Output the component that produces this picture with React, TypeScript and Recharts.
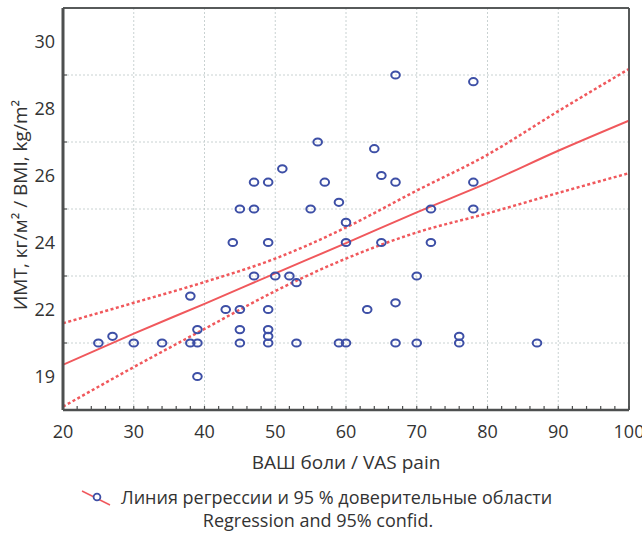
import { CartesianGrid, ComposedChart, Line, ReferenceLine, Scatter, XAxis, YAxis } from "recharts";

// ВАШ боли (VAS pain) и ИМТ (BMI) по пациентам
const vasPain = [
  25, 27, 30, 34, 38, 39, 39, 38, 39, 43, 45, 45, 45, 44, 45, 47, 47, 49, 49, 47, 49, 49, 49, 49, 50, 51, 52, 53,
  53, 55, 56, 57, 59, 60, 60, 59, 60, 63, 64, 65, 65, 67, 67, 67, 67, 70, 70, 72, 72, 76, 76, 78, 78, 78, 87,
];
const bmi = [
  21, 21.2, 21, 21, 21, 21, 21.4, 22.4, 20, 22, 22, 21.4, 21, 24, 25, 25, 25.8, 25.8, 24, 23, 22, 21.4, 21.2, 21, 23,
  26.2, 23, 22.8, 21, 25, 27, 25.8, 25.2, 24.6, 24, 21, 21, 22, 26.8, 26, 24, 29, 25.8, 22.2, 21, 23, 21, 25, 24,
  21.2, 21, 28.8, 25.8, 25, 21,
];

const fitX = [20, 30, 40, 50, 60, 70, 80, 90, 100];
const fitLine = [20.35, 21.28, 22.17, 23.08, 23.98, 24.9, 25.78, 26.74, 27.64];
const ciUpper = [21.59, 22.2, 22.82, 23.52, 24.45, 25.55, 26.62, 27.92, 29.18];
const ciLower = [19.1, 20.28, 21.42, 22.55, 23.52, 24.3, 24.87, 25.48, 26.07];

const xTicks = [20, 30, 40, 50, 60, 70, 80, 90, 100];
const yTickValues = [20, 22, 24, 26, 28, 30];
const yTickLabels = ["19", "22", "24", "26", "28", "30"];
const yGrid = [21, 23, 25, 27, 29];

const range = (from: number, to: number, step: number) => {
  const out: number[] = [];
  for (let v = from; v <= to + 1e-9; v += step) out.push(Math.round(v * 100) / 100);
  return out;
};
const xMinor = range(20, 100, 2);
const yMinor = range(19, 31, 0.4);
const yLeftTicks = range(20, 30, 1);

const points = vasPain.map((x, i) => ({ x, y: bmi[i] }));
const toSeries = (ys: number[]) => fitX.map((x, i) => ({ x, y: ys[i] }));

const FONT = "'Open Sans', 'DejaVu Sans', sans-serif";
const TEXT = "#333";
const FRAME = "#4d4f4f";
const RED = "#f0585c";
const BLUE = "#3d4fa6";

function Ring(props: any) {
  const { cx, cy } = props;
  if (cx == null || cy == null) return null;
  return <ellipse cx={cx} cy={cy} rx={4.3} ry={3.6} fill="none" stroke={BLUE} strokeWidth={2} />;
}

function LeftTick(props: any) {
  const { x, y, payload } = props;
  const idx = yTickValues.indexOf(payload.value);
  if (idx < 0) {
    return <line x1={x + 8} x2={x + 12} y1={y} y2={y} stroke={FRAME} strokeWidth={1.2} />;
  }
  return (
    <text x={x} y={y} dy="0.35em" textAnchor="end" fontSize={18} fontFamily={FONT} fill={TEXT}>
      {yTickLabels[idx]}
    </text>
  );
}

export default function App() {
  return (
    <div style={{ position: "absolute", left: 0, top: 0, width: 642, height: 535, background: "#fff" }}>
      <ComposedChart width={642} height={535} margin={{ top: 8, right: 13, bottom: 95, left: 0 }}>
        <CartesianGrid
          verticalValues={[30, 40, 50, 60, 70, 80, 90]}
          horizontalValues={yGrid}
          stroke="#c9d2d2"
          strokeDasharray="2 2"
        />
        <XAxis
          dataKey="x"
          type="number"
          domain={[20, 100]}
          ticks={xMinor}
          interval={0}
          height={30}
          tickSize={-4}
          tickMargin={19}
          tickFormatter={(v: number) => (xTicks.includes(v) ? String(v) : "")}
          axisLine={{ stroke: FRAME, strokeWidth: 2.5 }}
          tickLine={{ stroke: FRAME, strokeWidth: 1.2 }}
          tick={{ fontSize: 18, fontFamily: FONT, fill: TEXT }}
          allowDataOverflow
        />
        <XAxis
          xAxisId="top"
          orientation="top"
          type="number"
          domain={[20, 100]}
          ticks={xMinor}
          interval={0}
          height={1}
          mirror
          tickSize={4}
          tickFormatter={() => ""}
          axisLine={{ stroke: FRAME, strokeWidth: 1.5 }}
          tickLine={{ stroke: FRAME, strokeWidth: 1.2 }}
        />
        <YAxis
          type="number"
          domain={[19, 31]}
          ticks={yLeftTicks}
          interval={0}
          width={63}
          tickSize={0}
          tickMargin={8}
          tickLine={false}
          tick={<LeftTick />}
          axisLine={{ stroke: FRAME, strokeWidth: 3 }}
          allowDataOverflow
        />
        <YAxis
          yAxisId="right"
          orientation="right"
          type="number"
          domain={[19, 31]}
          ticks={yMinor}
          interval={0}
          width={1}
          mirror
          tickSize={4}
          tickFormatter={() => ""}
          axisLine={{ stroke: FRAME, strokeWidth: 1.5 }}
          tickLine={{ stroke: FRAME, strokeWidth: 1.2 }}
        />
        <ReferenceLine y={31} stroke={FRAME} strokeWidth={1.5} ifOverflow="visible" />
        <ReferenceLine x={100} stroke={FRAME} strokeWidth={1.5} ifOverflow="visible" />
        <Line
          data={toSeries(ciUpper)}
          dataKey="y"
          type="monotone"
          stroke={RED}
          strokeWidth={2.5}
          strokeDasharray="3 2.5"
          dot={false}
          isAnimationActive={false}
        />
        <Line
          data={toSeries(ciLower)}
          dataKey="y"
          type="monotone"
          stroke={RED}
          strokeWidth={2.5}
          strokeDasharray="3 2.5"
          dot={false}
          isAnimationActive={false}
        />
        <Line
          data={toSeries(fitLine)}
          dataKey="y"
          type="monotone"
          stroke={RED}
          strokeWidth={2}
          dot={false}
          isAnimationActive={false}
        />
        <Scatter data={points} dataKey="y" shape={<Ring />} isAnimationActive={false} />
      </ComposedChart>

      <div
        style={{
          position: "absolute",
          left: 20,
          top: 205,
          transform: "translate(-50%, -50%) rotate(-90deg)",
          whiteSpace: "nowrap",
          fontFamily: FONT,
          fontSize: 19,
          color: TEXT,
        }}
      >
        ИМТ, кг/м² / BMI, kg/m²
      </div>
      <div
        style={{
          position: "absolute",
          left: 0,
          width: 692,
          top: 449,
          textAlign: "center",
          fontFamily: FONT,
          fontSize: 19,
          color: TEXT,
        }}
      >
        ВАШ боли / VAS pain
      </div>
      <div style={{ position: "absolute", left: 80, top: 485, fontFamily: FONT, fontSize: 18, color: TEXT }}>
        <div style={{ display: "flex", alignItems: "center", whiteSpace: "nowrap" }}>
          <svg width={32} height={20} style={{ marginRight: 9 }}>
            <line x1={2} y1={4} x2={30} y2={18} stroke={RED} strokeWidth={1.5} />
            <circle cx={17} cy={10} r={3.4} fill="#fff" stroke={BLUE} strokeWidth={1.8} />
          </svg>
          Линия регрессии и 95 % доверительные области
        </div>
      </div>
      <div
        style={{
          position: "absolute",
          left: 0,
          width: 636,
          top: 508,
          textAlign: "center",
          fontFamily: FONT,
          fontSize: 18,
          color: TEXT,
        }}
      >
        Regression and 95% confid.
      </div>
    </div>
  );
}
